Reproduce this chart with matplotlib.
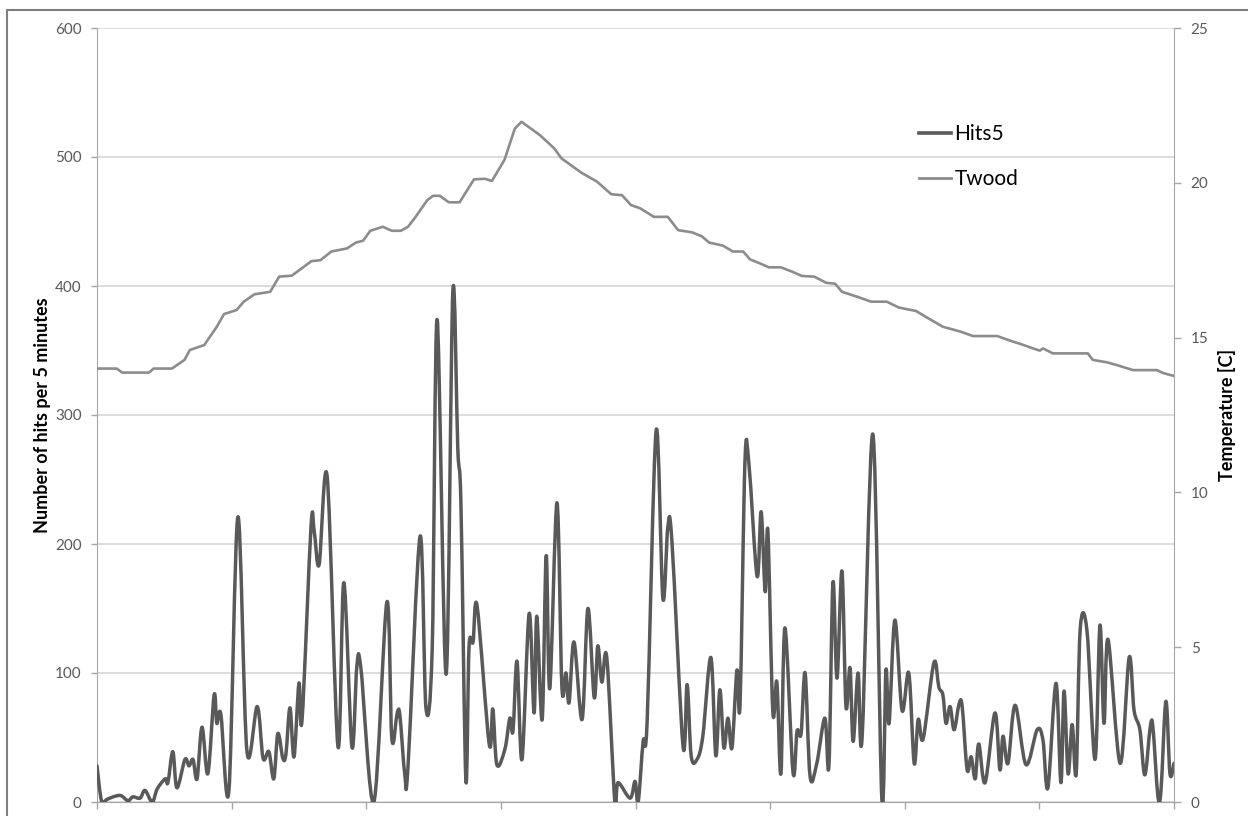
import numpy as np
import matplotlib
matplotlib.use("Agg")
import matplotlib.pyplot as plt
from matplotlib.path import Path
from matplotlib.patches import PathPatch, Rectangle
from matplotlib.lines import Line2D

plt.rcParams['font.family'] = ['Lato', 'DejaVu Sans']

# acoustic emission hits per 5 minutes, time in hours
hits_t = [0.00, 0.10, 0.22, 0.36, 0.53, 0.69, 0.80, 0.96, 1.07, 1.23,
          1.34, 1.52, 1.58, 1.69, 1.78, 1.96, 2.05, 2.14, 2.23, 2.34,
          2.47, 2.61, 2.67, 2.76, 2.94, 3.14, 3.34, 3.57, 3.70, 3.83,
          3.94, 4.03, 4.14, 4.21, 4.30, 4.39, 4.50, 4.57, 4.77, 4.84,
          4.95, 5.13, 5.37, 5.50, 5.68, 5.79, 5.88, 6.17, 6.46, 6.57,
          6.69, 6.75, 6.86, 6.93, 7.20, 7.33, 7.47, 7.58, 7.78, 7.93,
          8.04, 8.11, 8.22, 8.29, 8.38, 8.47, 8.74, 8.82, 8.91, 9.09,
          9.20, 9.27, 9.36, 9.47, 9.63, 9.74, 9.80, 9.92, 10.01, 10.09,
          10.25, 10.36, 10.45, 10.52, 10.63, 10.81, 10.94, 11.08, 11.16, 11.25,
          11.36, 11.54, 11.61, 11.88, 11.99, 12.06, 12.17, 12.26, 12.46, 12.61,
          12.72, 12.81, 13.06, 13.15, 13.24, 13.37, 13.50, 13.68, 13.79, 13.88,
          13.97, 14.06, 14.15, 14.26, 14.33, 14.44, 14.53, 14.71, 14.80, 14.89,
          14.95, 15.06, 15.15, 15.24, 15.33, 15.51, 15.60, 15.69, 15.78, 15.89,
          16.04, 16.22, 16.31, 16.40, 16.49, 16.60, 16.69, 16.78, 16.85, 16.96,
          17.05, 17.29, 17.49, 17.58, 17.65, 17.78, 17.94, 18.09, 18.21, 18.30,
          18.41, 18.65, 18.76, 18.85, 18.92, 19.01, 19.10, 19.21, 19.28, 19.39,
          19.48, 19.57, 19.65, 19.79, 20.01, 20.12, 20.19, 20.30, 20.46, 20.70,
          20.95, 21.08, 21.19, 21.37, 21.48, 21.55, 21.64, 21.73, 21.82, 21.91,
          22.06, 22.24, 22.35, 22.44, 22.53, 22.80, 23.00, 23.11, 23.24, 23.35,
          23.47, 23.53, 23.64, 23.71, 23.82, 23.91, 24.00]
hits5 = [28, 1, 2, 4, 5, 1, 4, 3, 9, 0,
         10, 18, 15, 39, 11, 33, 28, 33, 18, 58,
         22, 83, 61, 68, 9, 221, 40, 74, 34, 39,
         18, 53, 34, 37, 73, 35, 92, 64, 214, 210,
         184, 252, 43, 170, 43, 105, 104, 0, 155, 49,
         69, 67, 21, 27, 206, 73, 119, 374, 99, 396,
         274, 231, 17, 120, 124, 152, 45, 72, 29, 41,
         65, 55, 109, 33, 146, 69, 144, 64, 191, 88,
         232, 89, 100, 77, 124, 64, 150, 81, 121, 93,
         112, 0, 15, 3, 16, 0, 47, 63, 288, 158,
         213, 203, 43, 91, 36, 33, 51, 112, 36, 87,
         42, 65, 42, 102, 76, 265, 261, 175, 225, 163,
         210, 70, 93, 22, 135, 23, 55, 53, 100, 20,
         30, 65, 28, 170, 96, 179, 74, 104, 47, 100,
         50, 285, 2, 102, 61, 141, 71, 100, 30, 64,
         49, 108, 89, 83, 61, 74, 56, 76, 74, 25,
         35, 18, 45, 15, 69, 25, 51, 30, 75, 29,
         56, 48, 11, 92, 15, 86, 22, 60, 22, 134,
         133, 33, 137, 61, 126, 30, 112, 71, 56, 21,
         58, 58, 5, 9, 78, 22, 30]

# wood temperature [C]
twood_t = [0.00, 0.44, 0.56, 1.16, 1.26, 1.67, 1.95, 2.07, 2.39, 2.67,
           2.83, 3.11, 3.27, 3.51, 3.86, 4.06, 4.34, 4.78, 4.98, 5.22,
           5.57, 5.77, 5.93, 6.09, 6.37, 6.57, 6.77, 6.93, 7.09, 7.36,
           7.49, 7.64, 7.84, 8.08, 8.40, 8.64, 8.80, 9.08, 9.31, 9.46,
           9.87, 10.19, 10.35, 10.79, 11.14, 11.46, 11.70, 11.90, 12.10, 12.41,
           12.72, 12.95, 13.26, 13.48, 13.64, 13.95, 14.17, 14.40, 14.55, 14.80,
           14.97, 15.24, 15.49, 15.71, 15.98, 16.25, 16.45, 16.60, 16.94, 17.25,
           17.60, 17.87, 18.25, 18.47, 18.85, 19.25, 19.52, 20.06, 20.41, 20.57,
           20.86, 21.01, 21.08, 21.30, 22.08, 22.19, 22.51, 22.73, 23.09, 23.62,
           23.75, 24.00]
twood = [14.0, 14.0, 13.87, 13.87, 14.0, 14.0, 14.28, 14.6, 14.76, 15.35,
         15.76, 15.89, 16.16, 16.4, 16.48, 16.97, 17.0, 17.47, 17.5, 17.78,
         17.88, 18.07, 18.13, 18.45, 18.58, 18.45, 18.45, 18.58, 18.88, 19.44,
         19.58, 19.58, 19.37, 19.37, 20.11, 20.13, 20.06, 20.74, 21.75, 21.97,
         21.54, 21.11, 20.79, 20.33, 20.04, 19.63, 19.6, 19.28, 19.18, 18.9,
         18.9, 18.47, 18.4, 18.27, 18.07, 17.97, 17.78, 17.78, 17.53, 17.38,
         17.27, 17.27, 17.13, 16.99, 16.97, 16.77, 16.74, 16.48, 16.32, 16.16,
         16.16, 15.97, 15.86, 15.67, 15.35, 15.19, 15.05, 15.05, 14.87, 14.8,
         14.65, 14.58, 14.65, 14.49, 14.49, 14.28, 14.2, 14.11, 13.95, 13.95,
         13.86, 13.76]

HITS_COLOR = '#595959'
TWOOD_COLOR = '#8c8c8c'
GRID_COLOR = '#d9d9d9'
AXIS_COLOR = '#a6a6a6'
TEXT_COLOR = '#595959'


def smooth_path(x, y):
    # Bezier curve through every point, like a spreadsheet "smoothed line"
    pts = np.column_stack([x, y]).astype(float)
    n = len(pts)
    verts = [pts[0]]
    codes = [Path.MOVETO]
    for i in range(n - 1):
        p0 = pts[i - 1] if i > 0 else pts[i]
        p1, p2 = pts[i], pts[i + 1]
        p3 = pts[i + 2] if i + 2 < n else pts[i + 1]
        dx = p2[0] - p1[0]
        t1 = (p2 - p0) / 6.0
        t2 = (p3 - p1) / 6.0
        if t1[0] > dx:
            t1 = t1 * dx / t1[0]
        if t2[0] > dx:
            t2 = t2 * dx / t2[0]
        verts += [p1 + t1, p2 - t2, p2]
        codes += [Path.CURVE4] * 3
    return Path(verts, codes)


fig = plt.figure(figsize=(12.48, 8.16), dpi=100)
ax = fig.add_axes([97 / 1248, 1 - 802 / 816, 1077 / 1248, 774 / 816])
ax2 = ax.twinx()

ax.add_patch(PathPatch(smooth_path(hits_t, hits5), fill=False,
                       edgecolor=HITS_COLOR, lw=2.5, joinstyle='round',
                       capstyle='round', zorder=3))
ax2.plot(twood_t, twood, color=TWOOD_COLOR, lw=1.9, solid_joinstyle='round')

ax.set_xlim(0, 24)
ax.set_ylim(0, 600)
ax2.set_ylim(0, 25)
ax.set_xticks(np.arange(0, 25, 3))
ax.set_xticklabels([])
ax.set_yticks(np.arange(0, 601, 100))
ax2.set_yticks(np.arange(0, 26, 5))

ax.yaxis.grid(True, color=GRID_COLOR, lw=1.3)
ax.set_axisbelow(True)

for a in (ax, ax2):
    for side in a.spines:
        a.spines[side].set_visible(False)
ax.spines['left'].set_visible(True)
ax.spines['left'].set_color(AXIS_COLOR)
ax.spines['bottom'].set_visible(True)
ax.spines['bottom'].set_color(AXIS_COLOR)
ax2.spines['right'].set_visible(True)
ax2.spines['right'].set_color(AXIS_COLOR)

ax.tick_params(axis='y', direction='out', length=4, width=1, color=AXIS_COLOR,
               labelsize=11, labelcolor=TEXT_COLOR, pad=7)
ax.tick_params(axis='x', direction='out', length=5, width=1, color=AXIS_COLOR)
ax2.tick_params(axis='y', direction='out', length=5, width=1, color=AXIS_COLOR,
                labelsize=11, labelcolor=TEXT_COLOR, pad=7)

ax.set_ylabel('Number of hits per 5 minutes', fontsize=13, fontweight='bold')
ax.yaxis.set_label_coords(-0.0427, 0.5)
ax2.set_ylabel('Temperature [C]', fontsize=13, fontweight='bold', rotation=90)
ax2.yaxis.set_label_coords(1.0409, 0.5)

handles = [Line2D([], [], color=HITS_COLOR, lw=2.6),
           Line2D([], [], color=TWOOD_COLOR, lw=2.0)]
fig.legend(handles, ['Hits5', 'Twood'], loc='upper left',
           bbox_to_anchor=(919 / 1248, 1 - 124 / 816), frameon=False,
           fontsize=15, handlelength=1.55, handletextpad=0.15,
           labelspacing=1.2, borderpad=0, borderaxespad=0)

# chart frame
fig.patches.append(Rectangle((7 / 1248, -0.1), 1.2, 1 - 10 / 816 + 0.1,
                             transform=fig.transFigure, fill=False,
                             edgecolor='#7f7f7f', lw=1.5, zorder=0))

fig.savefig('out.png', dpi=100)
